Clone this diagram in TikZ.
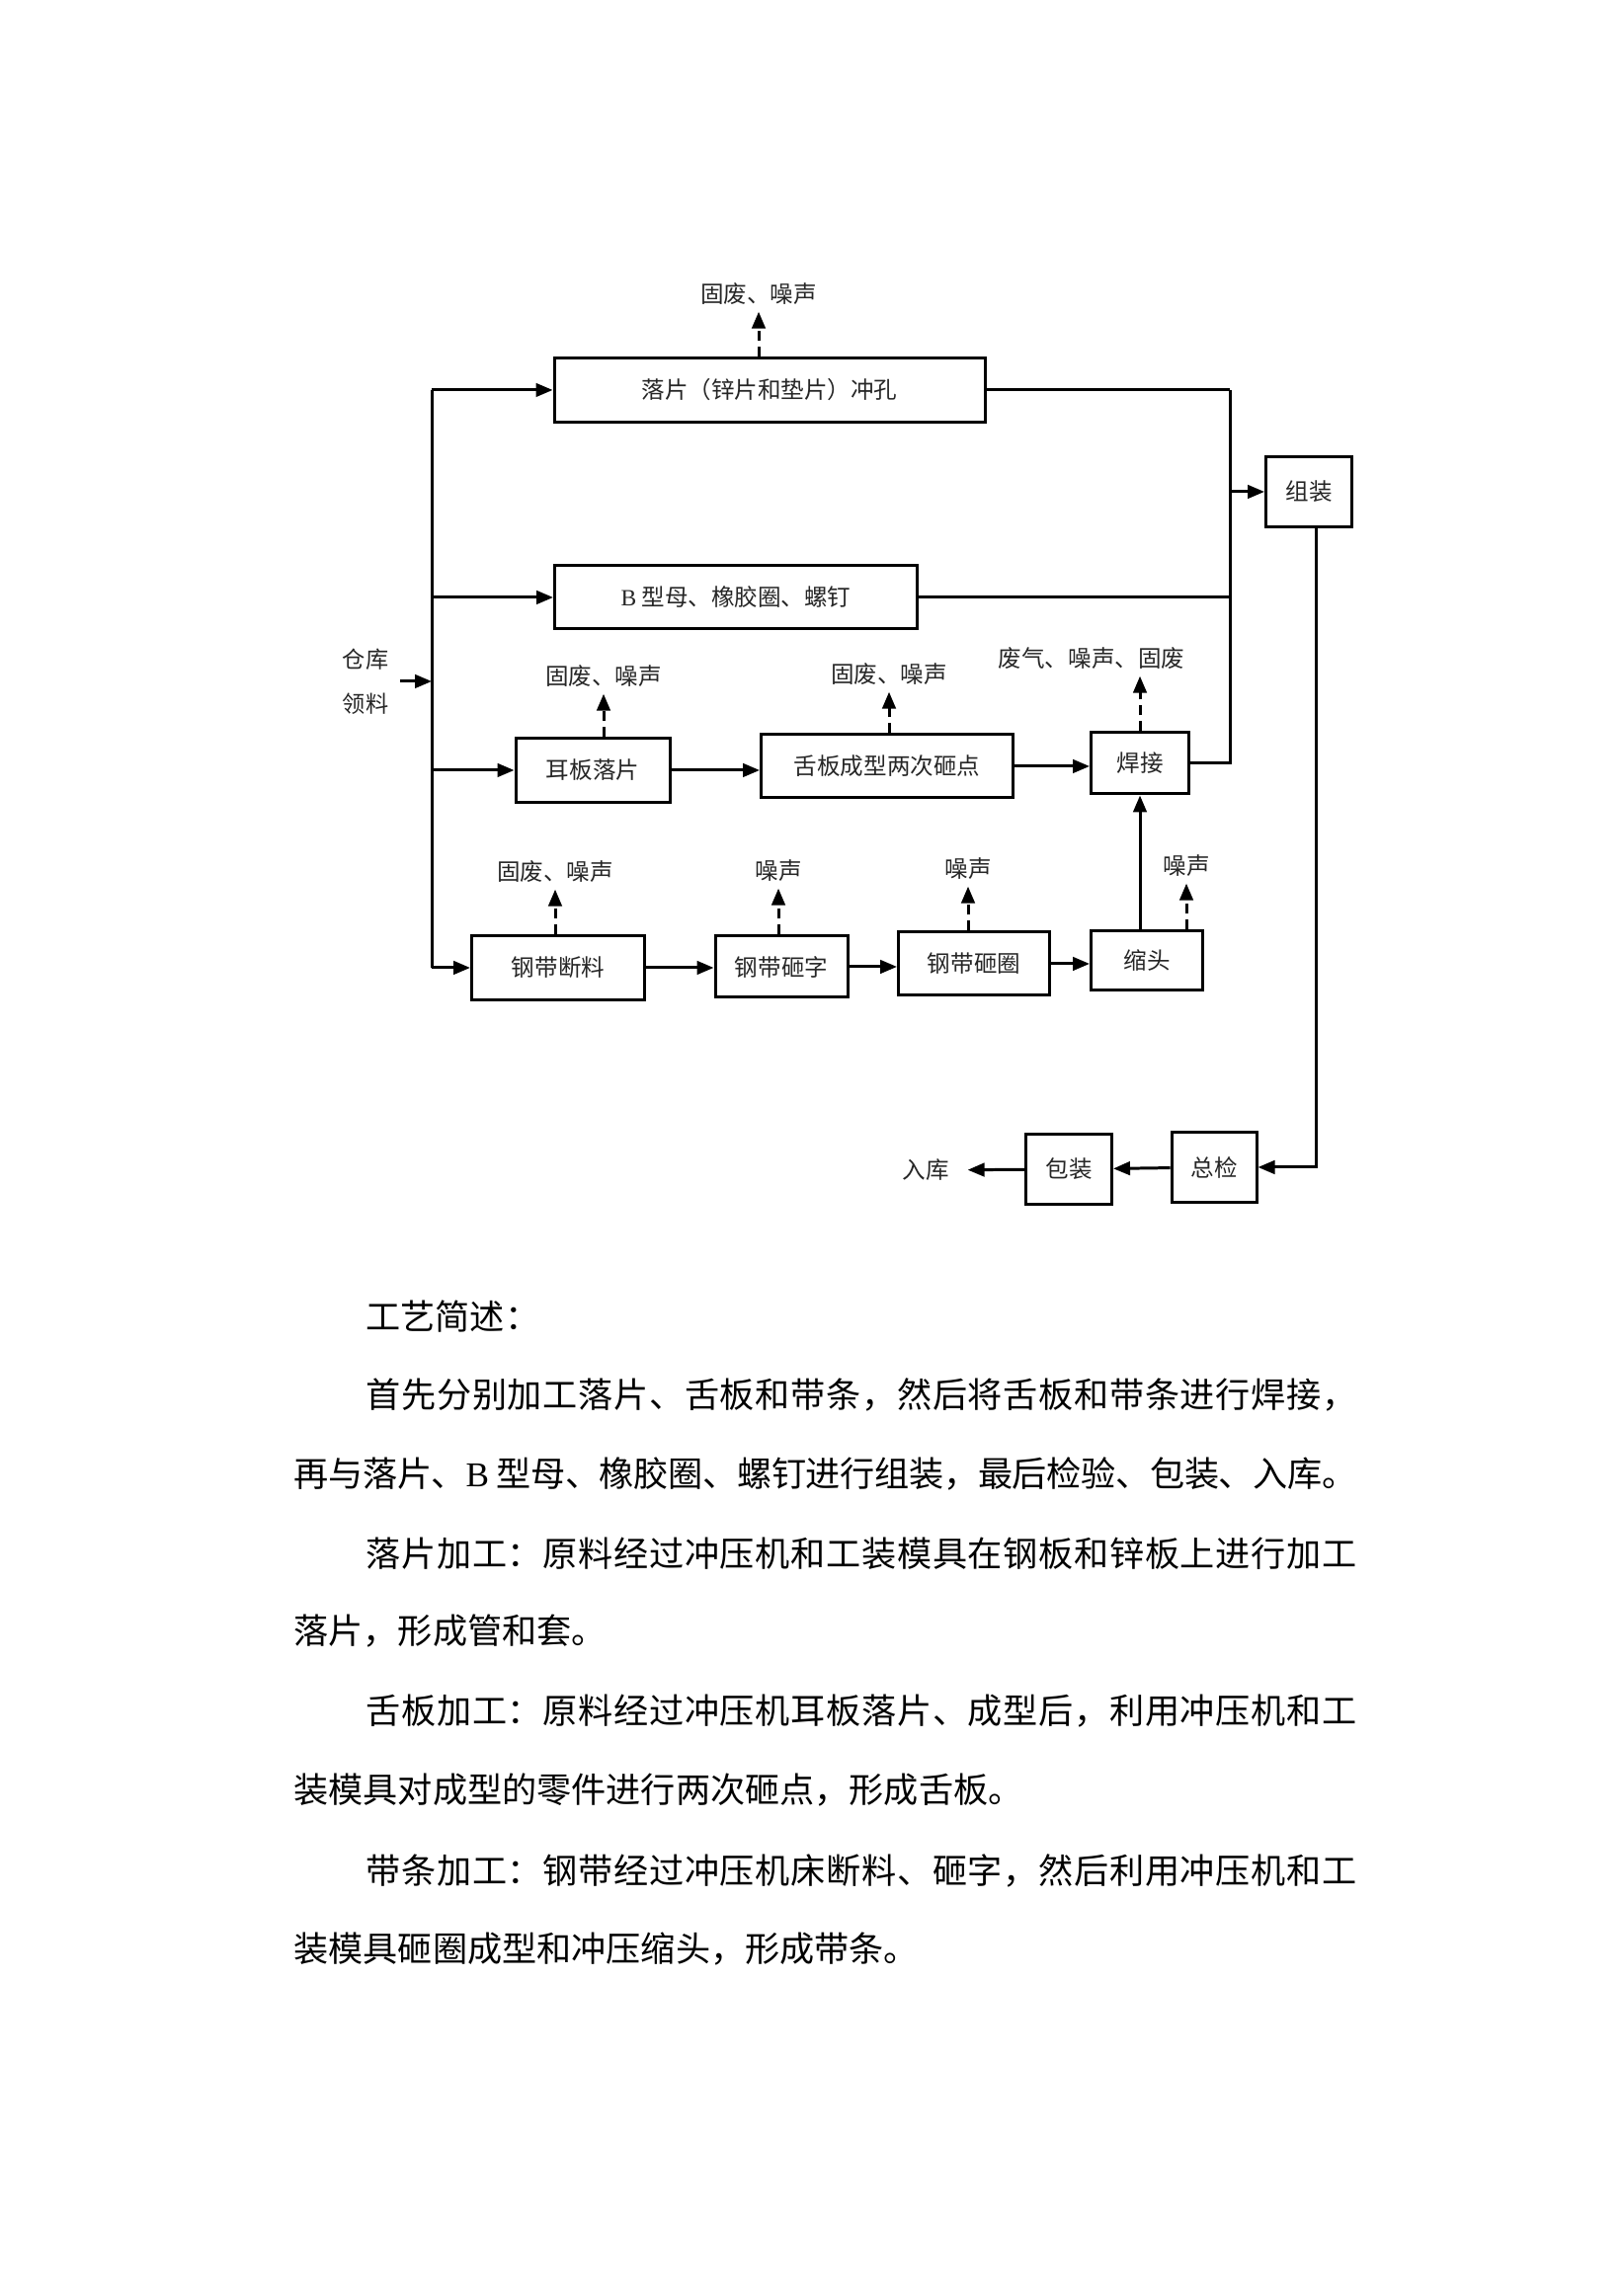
\documentclass[tikz,border=0pt]{standalone}
\usepackage{fontspec}
\setmainfont{Noto Sans CJK SC}
\newfontfamily\latin{Liberation Serif}
\usepackage{tikz}
\usetikzlibrary{arrows.meta}
% spread a line of characters over a given width
\newcommand\jline[2]{\makebox[#1][s]{\jlfirst#2\relax}}
\def\jlfirst#1{#1\jlnext}
\def\jlnext#1{\ifx\relax#1\else\hskip 0pt plus 1fil minus 1pt\relax#1\expandafter\jlnext\fi}

\begin{document}
\begin{tikzpicture}[>={Triangle[length=1.7mm,width=1.35mm]},line width=0.85pt,
  box/.style={draw,inner sep=0pt,text=black!85,font=\fontsize{6.7pt}{8pt}\selectfont},
  lbl/.style={inner sep=1.5pt,text=black!85,font=\fontsize{6.7pt}{8pt}\selectfont},
  emit/.style={->,dash pattern=on 1mm off 0.6mm},
  body/.style={anchor=west,inner sep=0pt,font=\fontsize{10pt}{12pt}\selectfont}]
\useasboundingbox (0,0) rectangle (16.42,23.25);

% process boxes
\node[box,minimum width=4.36cm,minimum height=0.65cm] (luopian) at (7.79,19.30) {落片（锌片和垫片）冲孔};
\node[box,minimum width=3.67cm,minimum height=0.64cm] (bxing) at (7.45,17.20) {{\latin B} 型母、橡胶圈、螺钉};
\node[box,minimum width=1.56cm,minimum height=0.65cm] (erban) at (6.00,15.45) {耳板落片};
\node[box,minimum width=2.55cm,minimum height=0.64cm] (sheban) at (8.98,15.49) {舌板成型两次砸点};
\node[box,minimum width=0.99cm,minimum height=0.62cm] (hanjie) at (11.54,15.52) {焊接};
\node[box,minimum width=0.87cm,minimum height=0.71cm] (zuzhuang) at (13.25,18.27) {组装};
\node[box,minimum width=1.75cm,minimum height=0.65cm] (duanliao) at (5.65,13.45) {钢带断料};
\node[box,minimum width=1.34cm,minimum height=0.62cm] (zazi) at (7.91,13.46) {钢带砸字};
\node[box,minimum width=1.53cm,minimum height=0.64cm] (zaquan) at (9.86,13.49) {钢带砸圈};
\node[box,minimum width=1.13cm,minimum height=0.60cm] (suotou) at (11.61,13.52) {缩头};
\node[box,minimum width=0.86cm,minimum height=0.71cm] (zongjian) at (12.29,11.43) {总检};
\node[box,minimum width=0.87cm,minimum height=0.71cm] (baozhuang) at (10.82,11.41) {包装};
\node[lbl,inner sep=5pt] (ruku) at (9.37,11.40) {入库};
\node[lbl,inner sep=3pt,align=center,font=\fontsize{6.6pt}{12.8pt}\selectfont] (cangku) at (3.70,16.35) {仓库\\领料};

% waste labels
\node[lbl] (e1) at (7.68,20.27) {固废、噪声};
\node[lbl] (e2) at (6.11,16.40) {固废、噪声};
\node[lbl] (e3) at (9.00,16.42) {固废、噪声};
\node[lbl] (e4) at (11.05,16.58) {废气、噪声、固废};
\node[lbl] (e5) at (5.62,14.42) {固废、噪声};
\node[lbl] (e6) at (7.88,14.43) {噪声};
\node[lbl] (e7) at (9.80,14.45) {噪声};
\node[lbl] (e8) at (12.01,14.48) {噪声};

% feed line
\coordinate (bt) at (4.37,19.30);
\coordinate (bb) at (4.37,13.45);
\draw (bt) -- (bb);
\draw[->] (cangku) -- (cangku -| bt);
\draw[->] (bt) -- (luopian);
\draw[->] (bt |- bxing) -- (bxing);
\draw[->] (bt |- erban) -- (erban);
\draw[->] (bb) -- (duanliao);

% chains
\draw[->] (erban.east) -- (erban.east -| sheban.west);
\draw[->] (sheban.east) -- (sheban.east -| hanjie.west);
\draw[->] (duanliao.east) -- (duanliao.east -| zazi.west);
\draw[->] (zazi.east) -- (zazi.east -| zaquan.west);
\draw[->] (zaquan.east) -- (zaquan.east -| suotou.west);
\draw[->] (suotou.north -| hanjie) -- (hanjie.south);

% to assembly
\coordinate (rj) at (12.45,19.30);
\draw (luopian) -- (rj);
\draw (bxing.east) -- (bxing.east -| rj);
\draw (hanjie.east) -- (hanjie.east -| rj) -- (rj);
\draw[->] (rj |- zuzhuang) -- (zuzhuang);
\draw[->] ([xshift=0.07cm]zuzhuang.south) |- (zongjian.east);
\draw[->] (zongjian) -- (baozhuang);
\draw[->] (baozhuang) -- (ruku);

% emissions
\draw[emit] (luopian.north -| e1) -- (e1);
\draw[emit] (erban.north -| e2) -- (e2);
\draw[emit] (sheban.north -| e3) -- (e3);
\draw[emit] (hanjie.north) -- (hanjie.north |- e4.south);
\draw[emit] (duanliao.north -| e5) -- (e5);
\draw[emit] (zazi.north -| e6) -- (e6);
\draw[emit] (zaquan.north -| e7) -- (e7);
\draw[emit] (suotou.north -| e8) -- (e8);

% description
\node[body] (t1) at (3.69,9.92) {工艺简述：};
\node[body] (t2) at (3.69,9.13) {\jline{10.03cm}{首先分别加工落片、舌板和带条，然后将舌板和带条进行焊接，}};
\node[body] (t3) at (2.96,8.32) {\jline{10.76cm}{再与落片、{{\latin B}\ }型母、橡胶圈、螺钉进行组装，最后检验、包装、入库。}};
\node[body] (t4) at (3.69,7.52) {\jline{10.03cm}{落片加工：原料经过冲压机和工装模具在钢板和锌板上进行加工}};
\node[body] (t5) at (2.96,6.73) {落片，形成管和套。};
\node[body] (t6) at (3.69,5.92) {\jline{10.03cm}{舌板加工：原料经过冲压机耳板落片、成型后，利用冲压机和工}};
\node[body] (t7) at (2.96,5.12) {装模具对成型的零件进行两次砸点，形成舌板。};
\node[body] (t8) at (3.69,4.31) {\jline{10.03cm}{带条加工：钢带经过冲压机床断料、砸字，然后利用冲压机和工}};
\node[body] (t9) at (2.96,3.51) {装模具砸圈成型和冲压缩头，形成带条。};
\end{tikzpicture}
\end{document}
